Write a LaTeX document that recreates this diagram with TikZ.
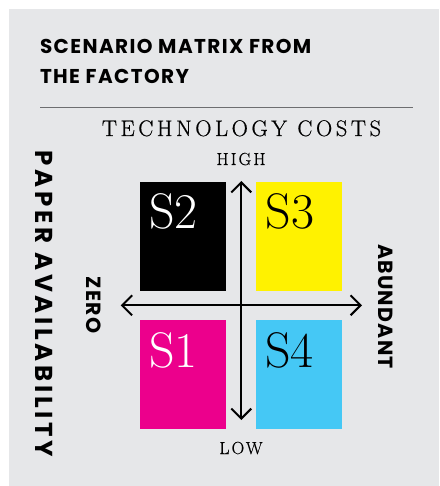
\documentclass[tikz,border=0pt]{standalone}
\usepackage{fontspec}
\usetikzlibrary{arrows.meta}
\newfontfamily\titlef{Poppins}[LetterSpace=7]
\newfontfamily\sidef{Poppins}[LetterSpace=6]
\newfontfamily\paperf{Poppins}[LetterSpace=15]
\newfontfamily\serifsp{Latin Modern Roman}[LetterSpace=16, FakeBold=0.6]
\newfontfamily\serifhl{Latin Modern Roman}[LetterSpace=12, FakeBold=0.5]
\newfontfamily\serifn{Latin Modern Roman}
\definecolor{bggray}{HTML}{E6E7E9}
\definecolor{rulegray}{HTML}{6D6E70}
\definecolor{magentaS}{HTML}{EC008C}
\definecolor{yellowS}{HTML}{FFF200}
\definecolor{cyanS}{HTML}{45C8F5}
\begin{document}
\begin{tikzpicture}[x=1pt,y=-1pt,
  txt/.style={inner sep=0pt, outer sep=0pt},
  title/.style={txt, anchor=base west, font=\titlef\bfseries\fontsize{20}{22}\selectfont},
  side/.style={txt, anchor=center, rotate=-90, font=\sidef\bfseries\fontsize{20.5}{22}\selectfont},
  axislbl/.style={txt, anchor=base, font=\serifhl\fontsize{17.5}{19}\selectfont},
  quad/.style={draw=none, inner sep=0pt, outer sep=0pt, minimum width=86pt, minimum height=109pt, anchor=north west},
  slbl/.style={txt, anchor=base west, font=\serifn\fontsize{50}{52}\selectfont},
  axis/.style={line width=2pt, {Straight Barb[length=10pt,width=20pt,line width=2pt]}-{Straight Barb[length=10pt,width=20pt,line width=2pt]}}
]
\useasboundingbox (0,0) rectangle (439,486);
\fill[white] (0,0) rectangle (439,486);
\fill[bggray] (9,9) rectangle (439,486);

\node[title] (t1) at (40,54) {SCENARIO MATRIX FROM};
\node[title] (t2) at (40,84) {THE FACTORY};
\coordinate (rl) at (40,107.7);
\coordinate (rr) at (413,107.7);
\draw[rulegray, line width=1.3pt] (rl) -- (rr);

\node[txt, anchor=base, font=\serifsp\fontsize{22.5}{24}\selectfont] (tc) at (241.5,136) {TECHNOLOGY COSTS};
\node[axislbl] (high) at (241,165) {HIGH};
\node[axislbl] (low) at (241,454) {LOW};

\node[txt, anchor=center, rotate=-90, font=\paperf\bfseries\fontsize{24.5}{26}\selectfont] (paper) at (44,304) {PAPER AVAILABILITY};
\node[side] (zero) at (93.5,305) {ZERO};
\node[side] (abund) at (385.5,306.5) {ABUNDANT};

\node[quad, fill=black] (s2) at (140,182) {};
\node[quad, fill=yellowS] (s3) at (256,182) {};
\node[quad, fill=magentaS] (s1) at (140,320) {};
\node[quad, fill=cyanS] (s4) at (256,320) {};

\node[slbl, text=white] (l2) at (149,228) {S2};
\node[slbl, text=black] (l3) at (265.5,228) {S3};
\node[slbl, text=white] (l1) at (149,367) {S1};
\node[slbl, text=black] (l4) at (265,367) {S4};

\coordinate (vt) at (241.3,181);
\coordinate (vb) at (241.3,420);
\coordinate (hl) at (120.7,305.3);
\coordinate (hr) at (362,305.3);
\draw[axis] (vb) -- (vt);
\draw[axis] (hl) -- (hr);
\end{tikzpicture}
\end{document}
